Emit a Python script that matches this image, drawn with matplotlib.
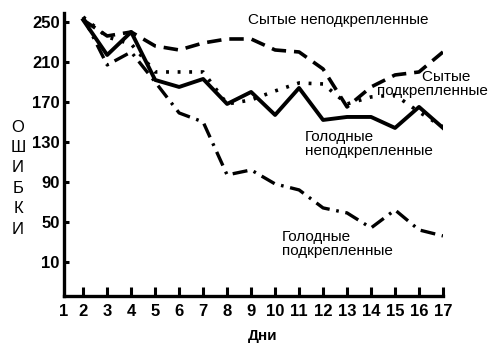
import matplotlib
matplotlib.use("Agg")
import matplotlib.pyplot as plt

# days on the x axis
days = list(range(2, 18))
tick_labels = [str(d) for d in range(1, 18)]

# number of errors per day
fed_unreinforced = [252, 236, 240, 226, 222, 229, 233, 233, 222, 220, 203, 165, 185, 197, 200, 220]
fed_reinforced = [255, 235, 228, 200, 200, 200, 168, 172, 181, 189, 188, 168, 175, 177, 160, 145]
hungry_unreinforced = [252, 217, 240, 192, 185, 193, 168, 180, 157, 184, 152, 155, 155, 144, 165, 144]
hungry_reinforced = [255, 207, 220, 190, 159, 150, 97, 102, 88, 82, 64, 59, 44, 62, 42, 36]

y_ticks = [10, 50, 90, 130, 170, 210, 250]

plt.rcParams['font.family'] = ['Liberation Sans', 'DejaVu Sans']

fig = plt.figure(figsize=(5, 3.51), dpi=100)
ax = fig.add_axes([0.128, 0.157, 0.758, 0.806])

ax.plot(days, fed_unreinforced, color='black', lw=2.6, dashes=(4, 2.2), solid_capstyle='butt')
ax.plot(days, fed_reinforced, color='black', lw=2.6, dashes=(0.8, 2.4))
ax.plot(days, hungry_unreinforced, color='black', lw=2.8)
ax.plot(days, hungry_reinforced, color='black', lw=2.4, dashes=(4.5, 2, 0.8, 2))

ax.set_xlim(1.2, 17)
ax.set_ylim(-24, 259)
ax.set_xticks([1.2] + days)
ax.set_xticklabels(tick_labels, fontsize=12, fontweight='bold')
ax.set_yticks(y_ticks)
ax.set_yticklabels([str(v) for v in y_ticks], fontsize=12, fontweight='bold')
ax.tick_params(axis='x', direction='in', length=6.5, width=2.2, pad=6)
ax.tick_params(axis='y', direction='in', length=3.5, width=2.2, pad=3)
ax.xaxis.get_major_ticks()[0].tick1line.set_visible(False)

for s in ['top', 'right']:
    ax.spines[s].set_visible(False)
for s in ['left', 'bottom']:
    ax.spines[s].set_linewidth(2.4)

# annotations
fs = 11
fig.text(248 / 500, 1 - 20 / 351, 'Сытые неподкрепленные', fontsize=fs, va='center', ha='left')
fig.text(377 / 500, 1 - 84 / 351, 'Сытые\u00a0\u00a0\u00a0\u00a0\nподкрепленные', fontsize=fs,
         va='center', ha='left', multialignment='right', linespacing=0.95)
fig.text(305 / 500, 1 - 144 / 351, 'Голодные\nнеподкрепленные', fontsize=fs, va='center', ha='left',
         linespacing=1.0)
fig.text(282 / 500, 1 - 244 / 351, 'Голодные\nподкрепленные', fontsize=fs, va='center', ha='left',
         linespacing=1.0)

fig.text(263 / 500, 1 - 336 / 351, 'Дни', fontsize=11, fontweight='bold', va='center', ha='center')
fig.text(18 / 500, 1 - 178 / 351, '\n'.join('ОШИБКИ'), fontsize=12, va='center', ha='center',
         linespacing=1.45)

fig.savefig('out.png', dpi=100)
